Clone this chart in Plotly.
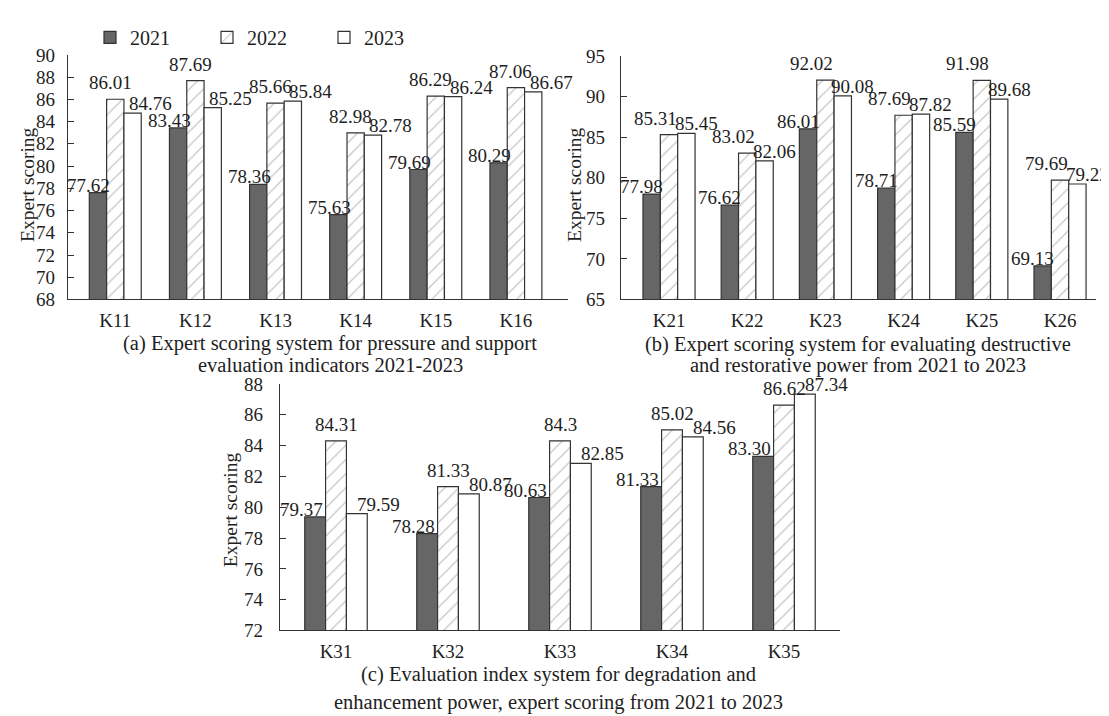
import plotly.graph_objects as go

# ---------------- data ----------------
years = ["2021", "2022", "2023"]

cats_a = ["K11", "K12", "K13", "K14", "K15", "K16"]
a_2021 = [77.62, 83.43, 78.36, 75.63, 79.69, 80.29]
a_2022 = [86.01, 87.69, 85.66, 82.98, 86.29, 87.06]
a_2023 = [84.76, 85.25, 85.84, 82.78, 86.24, 86.67]

cats_b = ["K21", "K22", "K23", "K24", "K25", "K26"]
b_2021 = [77.98, 76.62, 86.01, 78.71, 85.59, 69.13]
b_2022 = [85.31, 83.02, 92.02, 87.69, 91.98, 79.69]
b_2023 = [85.45, 82.06, 90.08, 87.82, 89.68, 79.22]

cats_c = ["K31", "K32", "K33", "K34", "K35"]
c_2021 = [79.37, 78.28, 80.63, 81.33, 83.30]
c_2022 = [84.31, 81.33, 84.30, 85.02, 86.62]
c_2023 = [79.59, 80.87, 82.85, 84.56, 87.34]
c_2022_text = ["84.31", "81.33", "84.3", "85.02", "86.62"]

captions = [
    ["(a) Expert scoring system for pressure and support",
     "evaluation indicators 2021-2023"],
    ["(b) Expert scoring system for evaluating destructive",
     "and restorative power from 2021 to 2023"],
    ["(c) Evaluation index system for degradation and",
     "enhancement power, expert scoring from 2021 to 2023"],
]
y_title = "Expert scoring"

# ---------------- style ----------------
FONT = "Liberation Serif"
FS = 19
TXT = "#1e1e1e"
EDGE = "#333333"

def bar_marker(k):
    if k == 0:
        return dict(color="#666666", line=dict(color=EDGE, width=1.2))
    if k == 1:
        return dict(color="white", line=dict(color=EDGE, width=1.2),
                    pattern=dict(shape="/", fgcolor="#8a8a8a", bgcolor="white",
                                 size=10, solidity=0.12))
    return dict(color="white", line=dict(color=EDGE, width=1.2))

panels = [
    dict(cats=cats_a, series=[a_2021, a_2022, a_2023], xa="x", ya="y",
         w=0.216, xshift=[-9, -5, 18]),
    dict(cats=cats_b, series=[b_2021, b_2022, b_2023], xa="x2", ya="y2",
         w=0.222, xshift=[-10, -14, 10]),
    dict(cats=cats_c, series=[c_2021, c_2022, c_2023], xa="x3", ya="y3",
         w=0.186, xshift=[-14, 0, 22]),
]
texts_override = {(2, 1): c_2022_text}
yshift = [-5, 4, -3]

fig = go.Figure()
annotations = []
for p_i, p in enumerate(panels):
    w = p["w"]
    for k, vals in enumerate(p["series"]):
        fig.add_trace(go.Bar(
            x=p["cats"], y=vals, name=years[k], xaxis=p["xa"], yaxis=p["ya"],
            width=w, offset=-1.5 * w + k * w, marker=bar_marker(k),
            showlegend=(p_i == 0), legendgroup=years[k],
        ))
        labels = texts_override.get((p_i, k), [f"{v:.2f}" for v in vals])
        for i, (v, t) in enumerate(zip(vals, labels)):
            annotations.append(dict(
                x=i + (k - 1) * w, y=v, xref=p["xa"], yref=p["ya"], text=t,
                showarrow=False, xanchor="center", yanchor="bottom",
                xshift=p["xshift"][k], yshift=yshift[k],
                font=dict(family=FONT, size=FS, color=TXT),
            ))

W, H = 1109, 716
def px_x(a, b):
    return [a / W, b / W]
def px_y(top, bottom):
    return [1 - bottom / H, 1 - top / H]

axis_common = dict(showline=True, linecolor=EDGE, linewidth=1.3, showgrid=False,
                   zeroline=False, tickfont=dict(family=FONT, size=FS, color=TXT))

layout = dict(
    width=W, height=H, plot_bgcolor="white", paper_bgcolor="white",
    margin=dict(l=0, r=0, t=0, b=0), barmode="overlay",
    font=dict(family=FONT, size=FS, color=TXT),
    xaxis=dict(domain=px_x(60, 560), anchor="y", range=[-0.59, 5.65],
               ticks="", ticklabelstandoff=4, **axis_common),
    yaxis=dict(domain=px_y(38, 290), anchor="x", range=[68, 90], dtick=2,
               ticks="inside", ticklen=6, tickcolor=EDGE, ticklabelstandoff=8,
               **axis_common),
    xaxis2=dict(domain=px_x(613, 1088), anchor="y2", range=[-0.614, 5.46],
                ticks="", ticklabelstandoff=4, **axis_common),
    yaxis2=dict(domain=px_y(39, 290), anchor="x2", range=[65, 95], dtick=5,
                ticks="inside", ticklen=6, tickcolor=EDGE, ticklabelstandoff=11,
                **axis_common),
    xaxis3=dict(domain=px_x(272, 832), anchor="y3", range=[-0.5, 4.5],
                ticks="", ticklabelstandoff=4, **axis_common),
    yaxis3=dict(domain=px_y(377, 631), anchor="x3", range=[72, 88], dtick=2,
                ticks="inside", ticklen=6, tickcolor=EDGE, ticklabelstandoff=12,
                **axis_common),
    legend=dict(orientation="h", x=82 / W, y=1 - 20 / H, xanchor="left",
                yanchor="middle", font=dict(family=FONT, size=20, color=TXT),
                entrywidth=72, entrywidthmode="pixels", bgcolor="rgba(0,0,0,0)",
                traceorder="normal"),
)

# axis titles
for xc, yc in [(20, 172), (567, 172), (222, 507)]:
    annotations.append(dict(x=xc / W, y=1 - yc / H, xref="paper", yref="paper",
                            text=y_title, textangle=-90, showarrow=False,
                            xanchor="center", yanchor="middle",
                            font=dict(family=FONT, size=19.5, color=TXT)))
# captions (one annotation per line)
cap_pos = [(322, [335, 357]), (850, [336, 358]), (550, [676, 705])]
for lines, (xc, ys) in zip(captions, cap_pos):
    for line, yc in zip(lines, ys):
        annotations.append(dict(x=xc / W, y=1 - yc / H, xref="paper", yref="paper",
                                text=line, showarrow=False, xanchor="center",
                                yanchor="middle",
                                font=dict(family=FONT, size=20.5, color=TXT)))

layout["annotations"] = annotations
fig.update_layout(**layout)
fig.write_html("out.html")
